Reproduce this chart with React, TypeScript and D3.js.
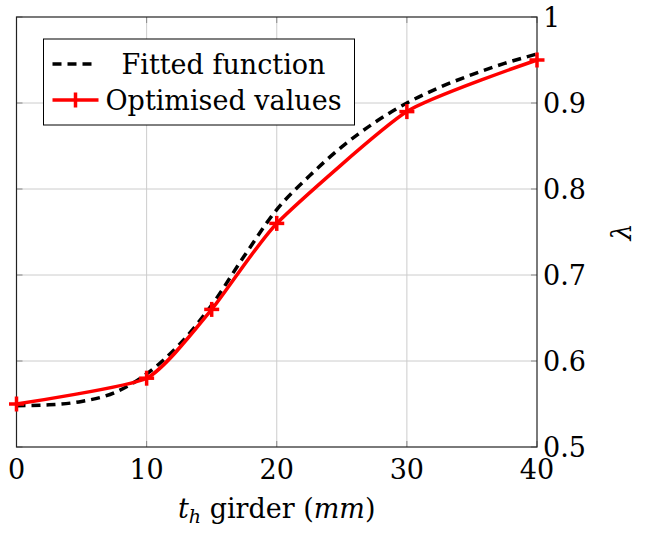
import React from "react";
import * as d3 from "d3";

// optimised values (red, with + markers)
const optX = [0, 10, 15, 20, 30, 40];
const optY = [0.55, 0.58, 0.66, 0.76, 0.89, 0.95];

// fitted function (dashed)
const fitX = [0, 2.5, 5, 7.5, 10, 12.5, 15, 17.5, 20, 22.5, 25, 27.5, 30, 32.5, 35, 37.5, 40];
const fitY = [0.548, 0.549, 0.553, 0.563, 0.585, 0.619, 0.665, 0.722, 0.776, 0.815, 0.849, 0.877, 0.9, 0.918, 0.933, 0.946, 0.957];

const xTicks = [0, 10, 20, 30, 40];
const yTicks = [0.5, 0.6, 0.7, 0.8, 0.9, 1];

const W = 649;
const H = 535;
const margin = { top: 17, right: 112, bottom: 88, left: 16.5 };
const FONT = "'DejaVu Serif', serif";
const FS = 27;

export default function App() {
  const innerW = W - margin.left - margin.right;
  const innerH = H - margin.top - margin.bottom;

  const x = d3.scaleLinear().domain([0, 40]).range([0, innerW]);
  const y = d3.scaleLinear().domain([0.5, 1]).range([innerH, 0]);

  const fitLine = d3
    .line<number>()
    .x((_d, i) => x(fitX[i]))
    .y((d) => y(d))
    .curve(d3.curveMonotoneX);

  const optLine = d3
    .line<number>()
    .x((_d, i) => x(optX[i]))
    .y((d) => y(d))
    .curve(d3.curveCardinal.tension(0.45));

  const m = 7.5; // half size of + marker
  const txt = { fontFamily: FONT };

  return (
    <svg
      width={W}
      height={H}
      style={{ position: "absolute", left: 0, top: 0, background: "#fff", fontFamily: FONT }}
    >
      <g transform={`translate(${margin.left},${margin.top})`}>
        {/* grid */}
        {xTicks.slice(1, -1).map((t) => (
          <line key={"gx" + t} x1={x(t)} x2={x(t)} y1={0} y2={innerH} stroke="#cccccc" strokeWidth={1} />
        ))}
        {yTicks.slice(1, -1).map((t) => (
          <line key={"gy" + t} x1={0} x2={innerW} y1={y(t)} y2={y(t)} stroke="#cccccc" strokeWidth={1} />
        ))}

        {/* ticks (inside, both sides) */}
        {xTicks.map((t) => (
          <g key={"tx" + t} stroke="#888" strokeWidth={1}>
            <line x1={x(t)} x2={x(t)} y1={innerH} y2={innerH - 6} />
            <line x1={x(t)} x2={x(t)} y1={0} y2={6} />
          </g>
        ))}
        {yTicks.map((t) => (
          <g key={"ty" + t} stroke="#888" strokeWidth={1}>
            <line x1={0} x2={6} y1={y(t)} y2={y(t)} />
            <line x1={innerW} x2={innerW - 6} y1={y(t)} y2={y(t)} />
          </g>
        ))}

        {/* axis box */}
        <rect x={0} y={0} width={innerW} height={innerH} fill="none" stroke="#222" strokeWidth={1.2} />

        {/* fitted function */}
        <path d={fitLine(fitY) || ""} fill="none" stroke="#000" strokeWidth={3.5} strokeDasharray="9 6" />

        {/* optimised values */}
        <path d={optLine(optY) || ""} fill="none" stroke="#ff0000" strokeWidth={3.5} />
        {optY.map((v, i) => (
          <g key={"mk" + i} stroke="#ff0000" strokeWidth={3.5}>
            <line x1={x(optX[i]) - m} x2={x(optX[i]) + m} y1={y(v)} y2={y(v)} />
            <line x1={x(optX[i])} x2={x(optX[i])} y1={y(v) - m} y2={y(v) + m} />
          </g>
        ))}

        {/* x tick labels */}
        {xTicks.map((t) => (
          <text key={"lx" + t} style={txt} x={x(t)} y={innerH + 32} fontSize={FS} textAnchor="middle" fill="#000">
            {t}
          </text>
        ))}
        {/* y tick labels (right side) */}
        {yTicks.map((t) => (
          <text key={"ly" + t} style={txt} x={innerW + 6} y={y(t) + 10} fontSize={FS} textAnchor="start" fill="#000">
            {t === 1 ? "1" : d3.format(".1f")(t)}
          </text>
        ))}

        {/* legend */}
        <g transform="translate(27,22)">
          <rect x={0} y={0} width={311} height={86} fill="#fff" stroke="#000" strokeWidth={1} />
          <line x1={9} x2={49} y1={25} y2={25} stroke="#000" strokeWidth={3.5} strokeDasharray="9 6" />
          <text style={txt} x={180} y={35} fontSize={FS} textAnchor="middle" fill="#000">Fitted function</text>
          <line x1={9} x2={55} y1={61} y2={61} stroke="#ff0000" strokeWidth={3.5} />
          <line x1={32} x2={32} y1={61 - m} y2={61 + m} stroke="#ff0000" strokeWidth={3.5} />
          <text style={txt} x={180} y={71} fontSize={FS} textAnchor="middle" fill="#000">Optimised values</text>
        </g>

        {/* axis labels */}
        <text style={txt} x={innerW / 2} y={innerH + 71} fontSize={FS} textAnchor="middle" fill="#000">
          <tspan fontStyle="italic">t</tspan>
          <tspan fontStyle="italic" fontSize={19} dy={5}>h</tspan>
          <tspan dy={-5}> girder (</tspan>
          <tspan fontStyle="italic">mm</tspan>
          <tspan>)</tspan>
        </text>
        <text
          style={txt}
          transform={`translate(${innerW + 94},${innerH / 2}) rotate(-90)`}
          fontSize={FS}
          fontStyle="italic"
          textAnchor="middle"
          fill="#000"
        >
          λ
        </text>
      </g>
    </svg>
  );
}
